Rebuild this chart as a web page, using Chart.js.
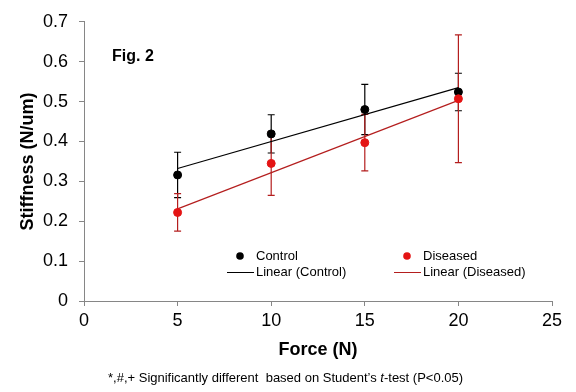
<!DOCTYPE html>
<html>
<head>
<meta charset="utf-8">
<script src="https://cdn.jsdelivr.net/npm/chart.js@4/dist/chart.umd.min.js"></script>
<style>
  html, body { margin: 0; padding: 0; background: #fff; }
  #wrap { width: 576px; height: 392px; }
</style>
</head>
<body>
<div id="wrap"><canvas id="chart" width="576" height="392"></canvas></div>
<script>
// Force levels (N)
const forces = [5, 10, 15, 20];

// Stiffness means and SD
const controlMean = [0.316, 0.419, 0.480, 0.524];
const controlErr = [0.057, 0.048, 0.063, 0.047];
const diseasedMean = [0.222, 0.345, 0.397, 0.507];
const diseasedErr = [0.047, 0.080, 0.071, 0.160];

// Trendline end points (Excel linear fit, as drawn)
const trendX = [5, 20];
const controlTrend = [0.332, 0.535];
const diseasedTrend = [0.231, 0.503];

// Tick labels
const xTickLabels = ['0', '5', '10', '15', '20', '25'];
const yTickLabels = ['0', '0.1', '0.2', '0.3', '0.4', '0.5', '0.6', '0.7'];

const FONT = "'Liberation Sans', Arial, sans-serif";
const AXIS_GREY = '#868686';
const RED = '#e41414';
const DARK_RED = '#b41e1e';

const toPts = (xs, ys) => xs.map((x, i) => ({ x: x, y: ys[i] }));

// error bars for all series, drawn before any marker
const errorBarPlugin = {
    id: 'errorBars',
    beforeDatasetsDraw(chart) {
        const { ctx } = chart;
        const xs = chart.scales.x, ys = chart.scales.y;
        ctx.save();
        ctx.lineWidth = 1.2;
        chart.data.datasets.forEach(ds => {
            if (!ds.errors) return;
            ctx.strokeStyle = ds.errorColor;
            ds.data.forEach((p, i) => {
                const px = xs.getPixelForValue(p.x);
                const top = ys.getPixelForValue(p.y + ds.errors[i]);
                const bot = ys.getPixelForValue(p.y - ds.errors[i]);
                ctx.beginPath();
                ctx.moveTo(px, top); ctx.lineTo(px, bot);
                ctx.moveTo(px - 3.5, top); ctx.lineTo(px + 3.5, top);
                ctx.moveTo(px - 3.5, bot); ctx.lineTo(px + 3.5, bot);
                ctx.stroke();
            });
        });
        ctx.restore();
    }
};

// legend, figure tag and footnote
const annotationPlugin = {
    id: 'annotations',
    afterDraw(chart) {
        const { ctx } = chart;
        ctx.save();
        ctx.textBaseline = 'middle';
        ctx.textAlign = 'left';

        ctx.fillStyle = '#000';
        ctx.font = 'bold 16px ' + FONT;
        ctx.fillText('Fig. 2', 112, 57);

        // legend
        ctx.font = '13px ' + FONT;
        const rows = [
            { x: 240, y: 256, dot: '#000', text: 'Control' },
            { x: 407, y: 256, dot: RED, text: 'Diseased' },
        ];
        rows.forEach(r => {
            ctx.fillStyle = r.dot;
            ctx.beginPath();
            ctx.arc(r.x, r.y, 3.8, 0, Math.PI * 2);
            ctx.fill();
            ctx.fillStyle = '#000';
            ctx.fillText(r.text, r.x + 16, r.y);
        });
        const lines = [
            { x0: 227, x1: 254, y: 272, color: '#000', text: 'Linear (Control)' },
            { x0: 394, x1: 421, y: 272, color: DARK_RED, text: 'Linear (Diseased)' },
        ];
        lines.forEach(l => {
            ctx.strokeStyle = l.color;
            ctx.lineWidth = 1;
            ctx.beginPath();
            ctx.moveTo(l.x0, l.y + 0.5); ctx.lineTo(l.x1, l.y + 0.5);
            ctx.stroke();
            ctx.fillStyle = '#000';
            ctx.fillText(l.text, l.x1 + 2, l.y);
        });

        // footnote with italic t
        const fy = 378;
        let fx = 108;
        ctx.font = '13px ' + FONT;
        const a = '*,#,+ Significantly different  based on Student\u2019s ';
        ctx.fillText(a, fx, fy);
        fx += ctx.measureText(a).width;
        ctx.font = 'italic 13px ' + FONT;
        ctx.fillText('t', fx, fy);
        fx += ctx.measureText('t').width;
        ctx.font = '13px ' + FONT;
        ctx.fillText('-test (P<0.05)', fx, fy);
        ctx.restore();
    }
};

new Chart(document.getElementById('chart'), {
    type: 'scatter',
    data: {
        datasets: [
            {
                label: 'Linear (Control)',
                data: toPts(trendX, controlTrend),
                showLine: true,
                borderColor: '#000',
                borderWidth: 1.1,
                pointRadius: 0,
                order: 4
            },
            {
                label: 'Linear (Diseased)',
                data: toPts(trendX, diseasedTrend),
                showLine: true,
                borderColor: DARK_RED,
                borderWidth: 1.1,
                pointRadius: 0,
                order: 3
            },
            {
                label: 'Control',
                data: toPts(forces, controlMean),
                errors: controlErr,
                errorColor: '#000',
                backgroundColor: '#000',
                borderColor: '#000',
                pointRadius: 4,
                order: 2
            },
            {
                label: 'Diseased',
                data: toPts(forces, diseasedMean),
                errors: diseasedErr,
                errorColor: DARK_RED,
                backgroundColor: RED,
                borderColor: RED,
                pointRadius: 4,
                order: 1
            }
        ]
    },
    options: {
        responsive: false,
        animation: false,
        layout: { padding: { left: 0, top: 17, right: 24, bottom: 0 } },
        plugins: {
            legend: { display: false },
            tooltip: { enabled: false }
        },
        scales: {
            x: {
                type: 'linear',
                min: 0, max: 25,
                afterBuildTicks(scale) {
                    scale.ticks = xTickLabels.map(v => ({ value: Number(v) }));
                },
                afterFit(scale) { scale.height = 91; },
                ticks: {
                    color: '#000',
                    font: { family: FONT, size: 18 },
                    padding: 4,
                    maxRotation: 0,
                    callback: (v, i) => xTickLabels[i]
                },
                grid: { drawOnChartArea: false, drawTicks: true, tickLength: 5, color: AXIS_GREY },
                border: { color: AXIS_GREY, width: 1 },
                title: {
                    display: true,
                    text: 'Force (N)',
                    color: '#000',
                    font: { family: FONT, size: 18, weight: 'bold' },
                    padding: { top: 0, bottom: 31 }
                }
            },
            y: {
                type: 'linear',
                min: 0, max: 0.7,
                afterBuildTicks(scale) {
                    scale.ticks = yTickLabels.map(v => ({ value: Number(v) }));
                },
                afterFit(scale) { scale.width = 84; },
                ticks: {
                    color: '#000',
                    font: { family: FONT, size: 18 },
                    padding: 11,
                    callback: (v, i) => yTickLabels[i]
                },
                grid: { drawOnChartArea: false, drawTicks: true, tickLength: 5, color: AXIS_GREY },
                border: { color: AXIS_GREY, width: 1 },
                title: {
                    display: true,
                    text: 'Stiffness (N/um)',
                    color: '#000',
                    font: { family: FONT, size: 18, weight: 'bold' },
                    padding: { top: 17, bottom: 0 }
                }
            }
        }
    },
    plugins: [errorBarPlugin, annotationPlugin]
});
</script>
</body>
</html>
